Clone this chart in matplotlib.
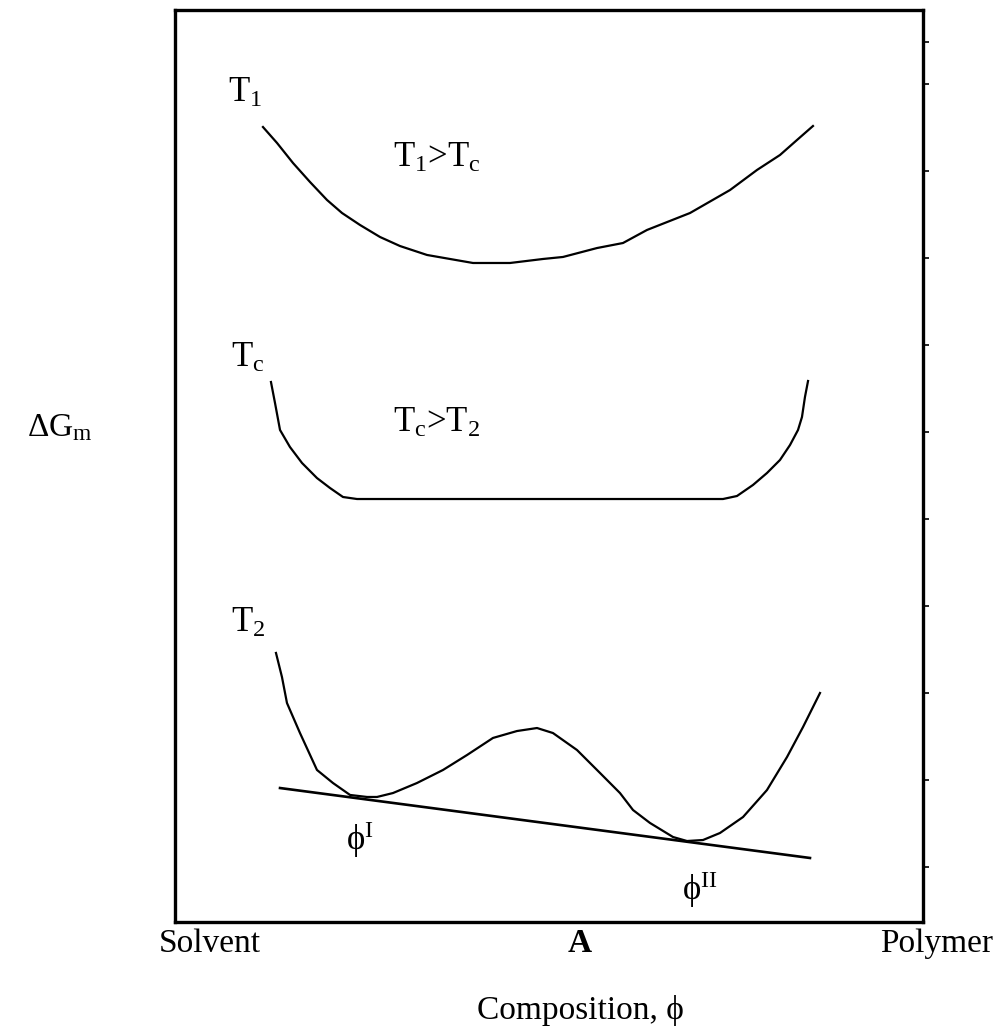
import matplotlib
matplotlib.use('Agg')
from matplotlib import pyplot as plt

plt.rcParams['font.family'] = ['Liberation Serif', 'DejaVu Serif']
plt.rcParams['mathtext.fontset'] = 'custom'
plt.rcParams['mathtext.rm'] = 'Liberation Serif'
plt.rcParams['mathtext.it'] = 'Liberation Serif:italic'

# T1 > Tc : single minimum
t1_x = [11.76, 13.64, 15.78, 18.05, 20.32, 22.33, 24.73, 27.41, 30.08, 33.69,
        36.76, 39.84, 44.79, 49.20, 51.87, 56.42, 59.89, 63.10, 68.85, 74.20,
        77.81, 80.88, 83.16, 85.29]
t1_y = [87.17, 85.42, 83.22, 81.14, 79.17, 77.74, 76.43, 75.11, 74.12, 73.14,
        72.70, 72.26, 72.26, 72.70, 72.92, 73.90, 74.45, 75.88, 77.74, 80.26,
        82.46, 84.10, 85.75, 87.28]

# Tc : flat bottom
tc_x = [12.83, 13.37, 14.04, 15.37, 16.98, 18.98, 20.72, 22.46, 24.33,
        73.26, 75.13, 77.27, 79.14, 80.88, 82.22, 83.29, 83.82, 84.22, 84.63]
tc_y = [59.21, 56.91, 53.95, 52.08, 50.33, 48.68, 47.59, 46.60, 46.38,
        46.38, 46.71, 47.92, 49.23, 50.66, 52.30, 53.95, 55.37, 57.57, 59.32]

# T2 : two minima
t2_x = [13.50, 14.30, 14.97, 16.71, 18.98, 21.12, 23.40, 25.67, 27.01, 29.14,
        32.35, 35.83, 39.04, 42.51, 45.72, 48.40, 50.53, 53.74, 56.82, 59.49,
        61.23, 63.50, 66.58, 68.45, 70.59, 72.86, 75.94, 79.14, 81.82, 83.96,
        86.23]
t2_y = [29.50, 26.86, 24.01, 20.72, 16.67, 15.24, 13.93, 13.71, 13.71, 14.14,
        15.24, 16.67, 18.31, 20.18, 20.94, 21.27, 20.72, 18.86, 16.34, 14.14,
        12.28, 10.86, 9.32, 8.88, 8.99, 9.76, 11.51, 14.47, 18.09, 21.38,
        25.11]

# common tangent
tan_x = [14.04, 84.89]
tan_y = [14.69, 7.02]

right_ticks = [96.49, 91.89, 82.35, 72.81, 63.27, 53.73, 44.19, 34.65, 25.11,
               15.57, 6.03]

fig = plt.figure(figsize=(10.01, 10.36), dpi=100)
ax = fig.add_axes([175 / 1001, 114 / 1036, 748 / 1001, 912 / 1036])

ax.plot(t1_x, t1_y, color='k', lw=1.6)
ax.plot(tc_x, tc_y, color='k', lw=1.6)
ax.plot(t2_x, t2_y, color='k', lw=1.6)
ax.plot(tan_x, tan_y, color='k', lw=1.9)

ax.set_xlim(0, 100)
ax.set_ylim(0, 100)
ax.set_xticks([])
ax.yaxis.tick_right()
ax.set_yticks(right_ticks)
ax.set_yticklabels([])
ax.tick_params(axis='y', direction='out', length=4, width=1.2)
for sp in ax.spines.values():
    sp.set_linewidth(2.4)

fs = 25
ax.text(9.36, 90.9, r'T$_{\rm 1}$', fontsize=fs, ha='center', va='center')
ax.text(35.03, 83.77, r'T$_{\rm 1}$>T$_{\rm c}$', fontsize=fs, ha='center', va='center')
ax.text(9.76, 61.84, r'T$_{\rm c}$', fontsize=fs, ha='center', va='center')
ax.text(35.03, 54.71, r'T$_{\rm c}$>T$_{\rm 2}$', fontsize=fs, ha='center', va='center')
ax.text(9.76, 32.79, r'T$_{\rm 2}$', fontsize=fs, ha='center', va='center')
ax.text(24.73, 8.99, r'ϕ$^{\rm I}$', fontsize=fs, ha='center', va='center')
ax.text(70.19, 3.51, r'ϕ$^{\rm II}$', fontsize=fs, ha='center', va='center')

fs2 = 24
fig.text(210 / 1001, 1 - 944 / 1036, 'Solvent', fontsize=fs2, ha='center', va='center')
fig.text(580 / 1001, 1 - 944 / 1036, 'A', fontsize=fs2, ha='center', va='center',
         fontweight='bold')
fig.text(937 / 1001, 1 - 944 / 1036, 'Polymer', fontsize=fs2, ha='center', va='center')
fig.text(580 / 1001, 1 - 1010 / 1036, 'Composition, ϕ', fontsize=fs2,
         ha='center', va='center')
fig.text(60 / 1001, 1 - 428 / 1036, r'ΔG$_{\rm m}$', fontsize=fs2,
         ha='center', va='center')

plt.savefig('out.png', dpi=100)
